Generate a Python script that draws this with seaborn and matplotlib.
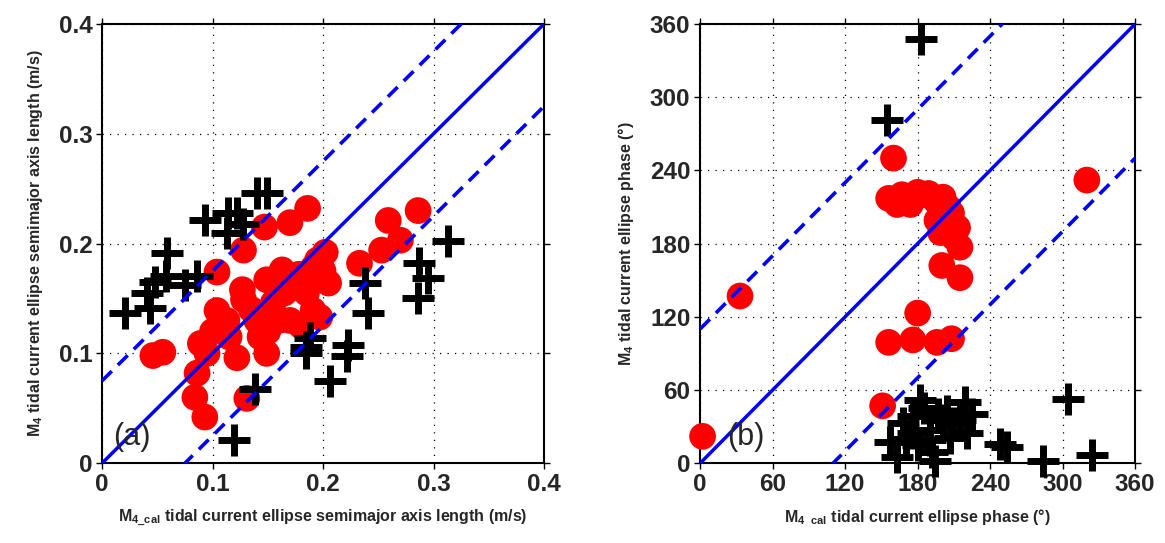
import numpy as np
import pandas as pd
import matplotlib
matplotlib.use("Agg")
import matplotlib.pyplot as plt
import seaborn as sns

# ---------------- data ----------------
# Panel (a): semimajor axis length (m/s)
a_red_x = [0.186, 0.147, 0.170, 0.128, 0.104, 0.127, 0.104, 0.089, 0.046, 0.055, 0.086, 0.084,
           0.093, 0.131, 0.122, 0.149, 0.143, 0.140, 0.155, 0.163, 0.149, 0.128, 0.113, 0.170,
           0.191, 0.185, 0.195, 0.259, 0.286, 0.270, 0.253, 0.233, 0.202, 0.205, 0.191, 0.197,
           0.178, 0.176, 0.200, 0.160, 0.100, 0.095, 0.115, 0.135, 0.165, 0.185, 0.180, 0.150]
a_red_y = [0.232, 0.215, 0.219, 0.194, 0.174, 0.158, 0.139, 0.109, 0.098, 0.101, 0.082, 0.060,
           0.042, 0.059, 0.096, 0.100, 0.115, 0.130, 0.146, 0.176, 0.167, 0.149, 0.130, 0.130,
           0.139, 0.169, 0.185, 0.221, 0.230, 0.203, 0.194, 0.182, 0.192, 0.164, 0.178, 0.133,
           0.172, 0.160, 0.175, 0.130, 0.120, 0.100, 0.115, 0.140, 0.155, 0.155, 0.125, 0.120]
a_blk_x = [0.021, 0.043, 0.041, 0.048, 0.059, 0.075, 0.086, 0.093, 0.113, 0.114, 0.122, 0.128,
           0.140, 0.149, 0.138, 0.119, 0.185, 0.188, 0.185, 0.223, 0.222, 0.206, 0.238, 0.241,
           0.287, 0.295, 0.286, 0.313, 0.058]
a_blk_y = [0.137, 0.141, 0.155, 0.165, 0.191, 0.162, 0.170, 0.221, 0.210, 0.228, 0.228, 0.218,
           0.246, 0.246, 0.068, 0.021, 0.106, 0.114, 0.100, 0.108, 0.098, 0.075, 0.164, 0.137,
           0.182, 0.169, 0.150, 0.202, 0.170]

# Panel (b): phase (degrees)
b_red_x = [2, 33, 160, 156, 167, 180, 189, 201, 163, 174, 196, 208, 213, 199, 215, 200, 215,
           180, 156, 176, 196, 208, 151, 320, 185, 195, 205, 210, 205]
b_red_y = [22, 137, 250, 217, 220, 222, 221, 218, 212, 212, 199, 205, 193, 189, 177, 162, 152,
           123, 99, 101, 99, 102, 47, 232, 220, 215, 210, 185, 195]
b_blk_x = [183, 155, 182, 219, 157, 163, 194, 192, 204, 209, 221, 176, 168, 190, 207, 215, 201,
           190, 176, 254, 248, 284, 304, 324, 185, 197, 225, 180, 170]
b_blk_y = [348, 281, 52, 50, 17, 5, 2, 9, 43, 33, 25, 39, 33, 19, 21, 35, 35,
           27, 25, 13, 16, 2, 53, 7, 45, 40, 40, 15, 20]

a_ticks = [0, 0.1, 0.2, 0.3, 0.4]
a_ticklabels = ["0", "0.1", "0.2", "0.3", "0.4"]
b_ticks = [0, 60, 120, 180, 240, 300, 360]
a_band = 0.075
b_band = 110

# ---------------- style ----------------
sns.set_theme(style="white")
plt.rcParams["font.family"] = ["Liberation Sans", "DejaVu Sans"]
plt.rcParams["mathtext.fontset"] = "custom"
plt.rcParams["mathtext.rm"] = "Liberation Sans:bold"
plt.rcParams["mathtext.bf"] = "Liberation Sans:bold"
plt.rcParams["mathtext.it"] = "Liberation Sans:bold"

fig = plt.figure(figsize=(11.65, 5.43), dpi=100)
ax_a = fig.add_axes([0.0876, 0.147, 0.3794, 0.809])
ax_b = fig.add_axes([0.601, 0.147, 0.3734, 0.809])


def draw(ax, rx, ry, bx, by, band, lim, ticks, ticklabels, xlabel, ylabel, tag, tagx):
    dr = pd.DataFrame({"x": rx, "y": ry})
    db = pd.DataFrame({"x": bx, "y": by})
    sns.scatterplot(data=dr, x="x", y="y", ax=ax, color="#ff0000", s=370,
                    edgecolor="none", linewidth=0, clip_on=False, zorder=3)
    sns.scatterplot(data=db, x="x", y="y", ax=ax, color="black", marker="+", s=560,
                    linewidth=5.0, clip_on=False, zorder=4)
    xs = np.array([0, lim])
    ax.plot(xs, xs, color="#0000ff", lw=2.5, zorder=5)
    ax.plot(xs, xs + band, color="#0000ff", lw=2.6, ls=(0, (3.8, 2.4)), zorder=5)
    ax.plot(xs, xs - band, color="#0000ff", lw=2.6, ls=(0, (3.8, 2.4)), zorder=5)
    ax.set_xlim(0, lim)
    ax.set_ylim(0, lim)
    ax.set_xticks(ticks)
    ax.set_yticks(ticks)
    ax.set_xticklabels(ticklabels, fontsize=17.5, fontweight="bold")
    ax.set_yticklabels(ticklabels, fontsize=17.5, fontweight="bold")
    ax.tick_params(axis="both", direction="out", length=4, width=1, color="black",
                   top=True, right=True, bottom=True, left=True, pad=3)
    ax.grid(True, color="black", linestyle=(0, (1, 5)), linewidth=0.9)
    for sp in ax.spines.values():
        sp.set_visible(True)
        sp.set_color("black")
        sp.set_linewidth(1.5)
    ax.set_xlabel(xlabel, fontsize=11.5, fontweight="bold", labelpad=8)
    ax.set_ylabel(ylabel, fontsize=11.5, fontweight="bold", labelpad=10)
    ax.text(tagx, 0.025, tag, transform=ax.transAxes, fontsize=22,
            ha="left", va="bottom", zorder=6)


draw(ax_a, a_red_x, a_red_y, a_blk_x, a_blk_y, a_band, 0.4, a_ticks, a_ticklabels,
     r"M$_{4\_cal}$ tidal current ellipse semimajor axis length (m/s)",
     r"M$_4$ tidal current ellipse semimajor axis length (m/s)", "(a)", 0.025)
draw(ax_b, b_red_x, b_red_y, b_blk_x, b_blk_y, b_band, 360, b_ticks,
     [str(t) for t in b_ticks],
     r"M$_{4\ \ cal}$ tidal current ellipse phase (°)",
     r"M$_4$ tidal current ellipse phase (°)", "(b)", 0.062)

fig.savefig("out.png", dpi=100)
